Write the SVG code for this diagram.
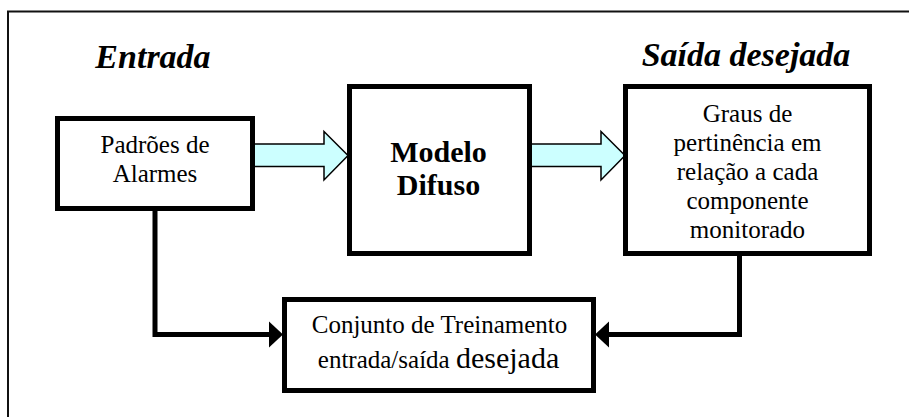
<svg xmlns="http://www.w3.org/2000/svg" width="909" height="417" viewBox="0 0 909 417">
<style>
  .box { fill: #ffffff; stroke: #000000; stroke-width: 5; }
  text { font-family: 'Liberation Serif', Tinos, 'Times New Roman', Times, 'DejaVu Serif', serif; fill: #000000; text-anchor: middle; }
  .reg { font-size: 25px; }
  .bold { font-size: 30px; font-weight: bold; }
  .title { font-size: 34px; font-weight: bold; font-style: italic; }
  .fat { fill: #CCFFFF; stroke: #000000; stroke-width: 1.5; stroke-linejoin: miter; }
  .conn { fill: none; stroke: #000000; stroke-width: 5; }
  .head { fill: #000000; stroke: none; }
</style>
<rect x="0" y="0" width="909" height="417" fill="#ffffff"/>
<path d="M8 425 V11.5 H915" fill="none" stroke="#111111" stroke-width="2"/>
<text class="title" x="153" y="68">Entrada</text>
<text class="title" x="746" y="66">Saída desejada</text>
<g id="connectors">
  <polygon class="fat" points="253,144 324,144 324,131.5 348,155.5 324,180 324,166.5 253,166.5"/>
  <polygon class="fat" points="530,144 601,144 601,131.5 625,155.5 601,180 601,166.5 530,166.5"/>
  <path class="conn" d="M155 211 V334.5 H271"/>
  <polygon class="head" points="269,321.5 283,334.5 269,347.5"/>
  <path class="conn" d="M739.5 256 V334.5 H607"/>
  <polygon class="head" points="609,321.5 595,334.5 609,347.5"/>
</g>
<g id="padroes">
  <rect class="box" x="57.5" y="118.5" width="195" height="90"/>
  <text class="reg" x="155" y="153">Padrões de</text>
  <text class="reg" x="155" y="182">Alarmes</text>
</g>
<g id="modelo">
  <rect class="box" x="349.5" y="86.5" width="180" height="167"/>
  <text class="bold" x="438.5" y="161.5">Modelo</text>
  <text class="bold" x="438.5" y="195">Difuso</text>
</g>
<g id="graus">
  <rect class="box" x="625.5" y="86.5" width="244" height="167"/>
  <text class="reg" x="747.5" y="122">Graus de</text>
  <text class="reg" x="747.5" y="151">pertinência em</text>
  <text class="reg" x="747.5" y="180">relação a cada</text>
  <text class="reg" x="747.5" y="209">componente</text>
  <text class="reg" x="747.5" y="238">monitorado</text>
</g>
<g id="treinamento">
  <rect class="box" x="284.5" y="299.5" width="309" height="91"/>
  <text class="reg" x="439.5" y="333">Conjunto de Treinamento</text>
  <text x="438.5" y="368"><tspan font-size="25px">entrada/saída </tspan><tspan font-size="30px">desejada</tspan></text>
</g>
</svg>
